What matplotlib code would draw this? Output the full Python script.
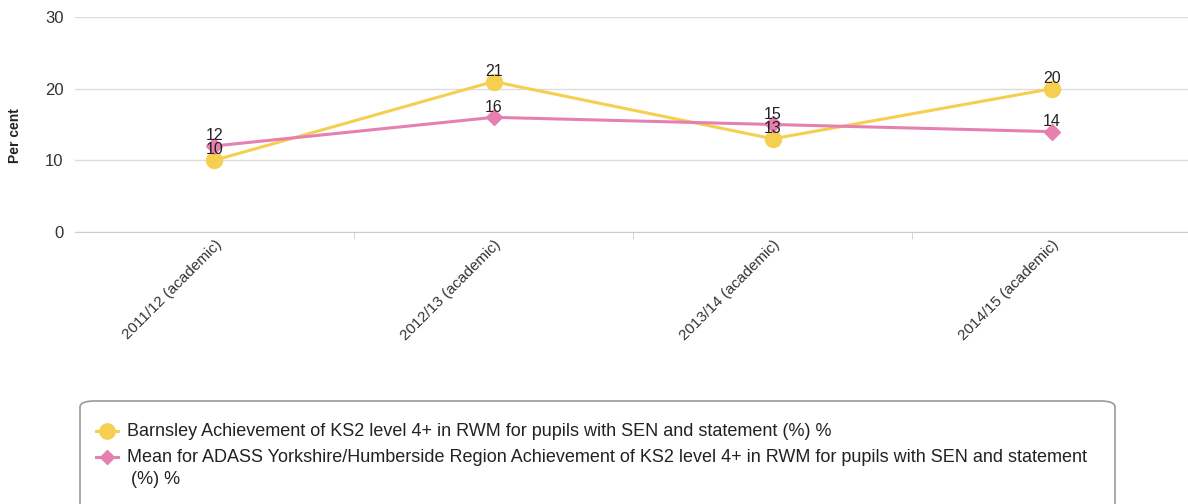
import matplotlib
matplotlib.use("Agg")
import matplotlib.pyplot as plt
from matplotlib.patches import FancyBboxPatch
from matplotlib.lines import Line2D
import numpy as np

plt.rcParams['font.family'] = ['Liberation Sans', 'DejaVu Sans']

years = ["2011/12 (academic)", "2012/13 (academic)", "2013/14 (academic)", "2014/15 (academic)"]
barnsley = [10, 21, 13, 20]
adass_mean = [12, 16, 15, 14]
barnsley_label = "Barnsley Achievement of KS2 level 4+ in RWM for pupils with SEN and statement (%) %"
adass_label_lines = ["Mean for ADASS Yorkshire/Humberside Region Achievement of KS2 level 4+ in RWM for pupils with SEN and statement",
                     "(%) %"]

yellow = "#f5cf4f"
pink = "#e680b0"
grid_c = "#dddddd"
text_c = "#333333"

fig = plt.figure(figsize=(11.88, 5.04), dpi=100)
ax = fig.add_axes([0.063, 0.540, 0.940, 0.426])

x = np.arange(len(years))
ax.plot(x, barnsley, color=yellow, lw=2.2, marker="o", ms=11.5, zorder=3, clip_on=False)
ax.plot(x, adass_mean, color=pink, lw=2.2, marker="D", ms=8, zorder=4, clip_on=False)

for xi, v in zip(x, barnsley):
    ax.annotate(str(v), (xi, v), xytext=(0, 2), textcoords="offset points",
                ha="center", va="bottom", fontsize=11.5, color="#222222", zorder=5)
for xi, v in zip(x, adass_mean):
    ax.annotate(str(v), (xi, v), xytext=(0, 2), textcoords="offset points",
                ha="center", va="bottom", fontsize=11.5, color="#222222", zorder=5)

ax.set_xlim(-0.5, len(years) - 0.5)
ax.set_ylim(0, 30)
ax.set_yticks([0, 10, 20, 30])
ax.yaxis.grid(True, color=grid_c, lw=1)
ax.set_axisbelow(True)
for s in ["top", "right", "left"]:
    ax.spines[s].set_visible(False)
ax.spines["bottom"].set_color("#cccccc")

ax.set_xticks(x)
ax.set_xticklabels(years, rotation=45, ha="right", rotation_mode="anchor",
                   fontsize=11, color=text_c)
ax.tick_params(axis="x", length=0, pad=4)
ax.set_xticks(np.arange(len(years) - 1) + 0.5, minor=True)
ax.tick_params(axis="x", which="minor", length=5, color="#cccccc")
ax.tick_params(axis="y", length=0, labelsize=12, labelcolor=text_c, pad=8)
ax.set_ylabel("Per cent", fontsize=10, fontweight="bold", color="#222222")
ax.yaxis.set_label_coords(-0.047, 0.45)

# legend box
box = FancyBboxPatch((80 / 1188, -0.05), (1115 - 80) / 1188, (504 - 401) / 504 + 0.05,
                     boxstyle="round,pad=0,rounding_size=0.012", transform=fig.transFigure,
                     facecolor="white", edgecolor="#999999", lw=1.2)
fig.patches.append(box)

y1 = 1 - 431 / 504
y2 = 1 - 457 / 504
y3 = 1 - 479 / 504
for yy, col, mk, ms in [(y1, yellow, "o", 11), (y2, pink, "D", 7)]:
    fig.lines.append(Line2D([96 / 1188, 118 / 1188], [yy, yy], color=col, lw=2.2,
                            transform=fig.transFigure))
    fig.lines.append(Line2D([107 / 1188], [yy], color=col, marker=mk, ms=ms,
                            transform=fig.transFigure))
fig.text(127 / 1188, y1, barnsley_label, fontsize=13, color="#222222", va="center")
fig.text(127 / 1188, y2, adass_label_lines[0], fontsize=13, color="#222222", va="center")
fig.text(131 / 1188, y3, adass_label_lines[1], fontsize=13, color="#222222", va="center")

fig.savefig("out.png", dpi=100)
